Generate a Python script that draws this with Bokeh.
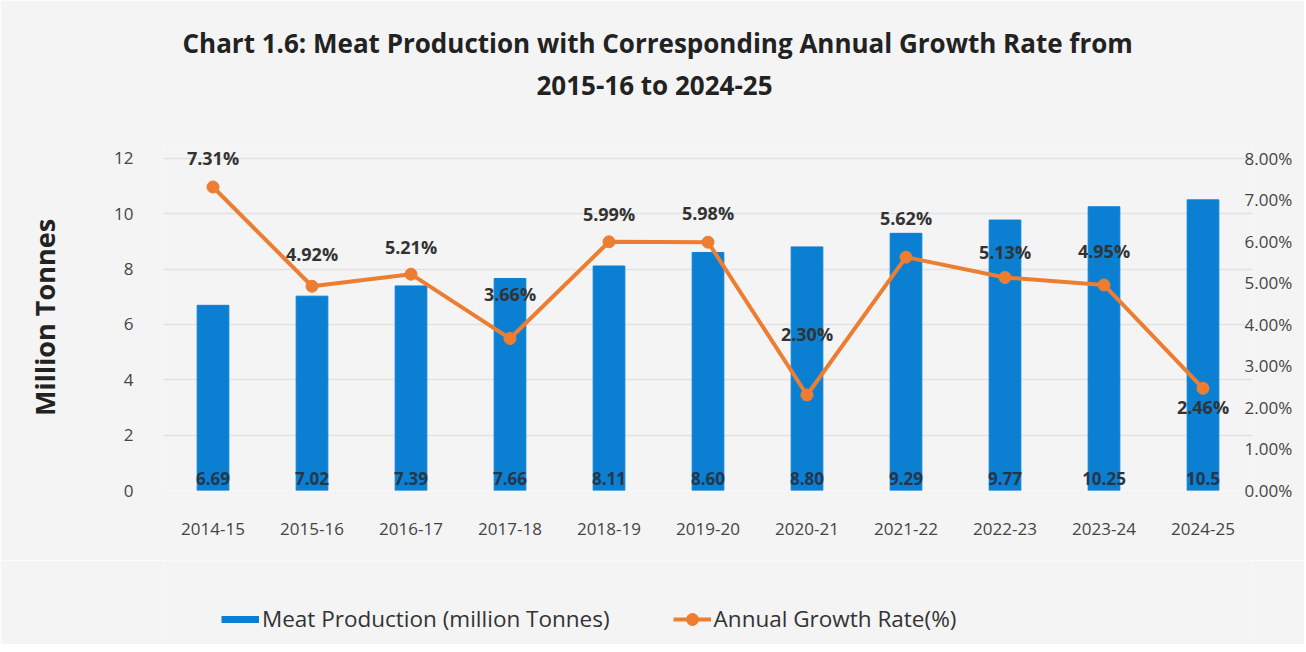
import numpy as np
from bokeh.plotting import figure
from bokeh.layouts import column
from bokeh.models import (Range1d, LinearAxis, FixedTicker, PrintfTickFormatter,
                          ColumnDataSource, Legend, LegendItem, Title)
from bokeh.core.properties import value
from bokeh.embed import file_html
from bokeh.resources import INLINE

years = ["2014-15", "2015-16", "2016-17", "2017-18", "2018-19", "2019-20",
         "2020-21", "2021-22", "2022-23", "2023-24", "2024-25"]
production = [6.69, 7.02, 7.39, 7.66, 8.11, 8.60, 8.80, 9.29, 9.77, 10.25, 10.5]
production_labels = ["6.69", "7.02", "7.39", "7.66", "8.11", "8.60", "8.80",
                     "9.29", "9.77", "10.25", "10.5"]
growth = [7.31, 4.92, 5.21, 3.66, 5.99, 5.98, 2.30, 5.62, 5.13, 4.95, 2.46]
growth_labels = ["7.31%", "4.92%", "5.21%", "3.66%", "5.99%", "5.98%", "2.30%",
                 "5.62%", "5.13%", "4.95%", "2.46%"]
left_ticks = [0, 2, 4, 6, 8, 10, 12]
right_ticks = [0, 1, 2, 3, 4, 5, 6, 7, 8]

# label placement (styling, pixels)
growth_label_offsets = [-29, -32, -27, -45, -28, -29, -61, -39, -26, -34, 19]

FONT = "Open Sans"
BG = "#f4f4f4"
BLUE = "#0B80D2"
ORANGE = "#ED7D31"
W = 1304

src = ColumnDataSource(dict(
    year=years, prod=production, prod_label=production_labels,
    growth=growth, glabel=growth_labels, goff=growth_label_offsets,
    zero=np.zeros(len(years)),
))

y_max = 12.5
p = figure(x_range=years, y_range=Range1d(0, y_max), width=W, height=560,
           output_backend="svg", toolbar_location=None, title=None,
           min_border_left=163, min_border_right=52, min_border_top=144,
           min_border_bottom=70)
p.extra_y_ranges = {"pct": Range1d(0, y_max * 8 / 12)}
p.background_fill_color = BG
p.border_fill_color = BG
p.outline_line_color = None

# Titles
t2 = Title(text="2015-16 to 2024-25", align="left", offset=373, standoff=84,
           text_font=FONT, text_font_size="26px", text_font_style="bold", text_color="#222222")
t1 = Title(text="Chart 1.6: Meat Production with Corresponding Annual Growth Rate from",
           align="left", offset=19, standoff=-76,
           text_font=FONT, text_font_size="26px", text_font_style="bold", text_color="#222222")
p.add_layout(t2, "above")
p.add_layout(t1, "above")

# Axes
for ax in [p.xaxis[0], p.yaxis[0]]:
    ax.axis_line_color = None
    ax.major_tick_line_color = None
    ax.minor_tick_line_color = None
    ax.major_label_text_font = FONT
    ax.major_label_text_font_size = "17px"
    ax.major_label_text_color = "#444444"

p.xaxis.major_label_standoff = 26
p.yaxis.ticker = FixedTicker(ticks=left_ticks)
p.yaxis.major_label_standoff = 24
p.yaxis.axis_label = "Million Tonnes"
p.yaxis.axis_label_text_font = FONT
p.yaxis.axis_label_text_font_size = "27px"
p.yaxis.axis_label_text_font_style = "bold"
p.yaxis.axis_label_text_color = "#222222"
p.yaxis.axis_label_standoff = 48

ra = LinearAxis(y_range_name="pct", ticker=FixedTicker(ticks=right_ticks),
                formatter=PrintfTickFormatter(format="%.2f%%"))
ra.axis_line_color = None
ra.major_tick_line_color = None
ra.minor_tick_line_color = None
ra.major_label_text_font = FONT
ra.major_label_text_font_size = "17px"
ra.major_label_text_color = "#444444"
ra.major_label_standoff = -14
p.add_layout(ra, "right")

p.xgrid.visible = False
p.ygrid.ticker = FixedTicker(ticks=left_ticks[1:])
p.ygrid.grid_line_color = "#e2e2e2"
p.ygrid.grid_line_width = 1.5

p.vbar(x="year", top="prod", width=0.32, fill_color=BLUE, line_color=BLUE, source=src)
p.line(x="year", y="growth", y_range_name="pct", line_color=ORANGE, line_width=4, source=src)
p.scatter(x="year", y="growth", y_range_name="pct", size=12,
          fill_color=ORANGE, line_color=ORANGE, source=src)

p.text(x="year", y="zero", text="prod_label", y_offset=-12, text_align="center",
       text_baseline="middle", text_font=value(FONT), text_font_style="bold",
       text_font_size="17px", text_color="#26364a", source=src)
p.text(x="year", y="growth", y_range_name="pct", text="glabel", y_offset="goff",
       text_align="center", text_baseline="middle", text_font=value(FONT),
       text_font_style="bold", text_font_size="18px", text_color="#333333", source=src)

# Legend strip below the chart: proxy renderers whose data lie outside this strip's ranges
q = figure(width=W, height=84, output_backend="svg", toolbar_location=None,
           x_range=Range1d(-2, -1), y_range=Range1d(-2, -1), x_axis_type=None,
           y_axis_type=None, min_border=0)
q.background_fill_color = BG
q.border_fill_color = BG
q.outline_line_color = None
q.grid.visible = False
lg_bar = q.line(x="growth", y="prod", line_color=BLUE, line_width=7, source=src)
lg_line = q.line(x="growth", y="prod", line_color=ORANGE, line_width=4, source=src)
lg_pts = q.scatter(x="growth", y="prod", size=12, fill_color=ORANGE,
                   line_color=ORANGE, source=src)

legend = Legend(items=[
    LegendItem(label="Meat Production (million Tonnes)", renderers=[lg_bar]),
    LegendItem(label="Annual Growth Rate(%)", renderers=[lg_line, lg_pts]),
], orientation="horizontal", location=(58, 10), margin=0)
legend.background_fill_alpha = 0
legend.border_line_color = None
legend.label_text_font = FONT
legend.label_text_font_size = "22.5px"
legend.label_text_color = "#333333"
legend.glyph_width = 38
legend.glyph_height = 30
legend.label_standoff = 3
legend.spacing = 63
q.add_layout(legend, "center")

layout = column(p, q, spacing=0)
open("out.html", "w").write(file_html(layout, INLINE))
